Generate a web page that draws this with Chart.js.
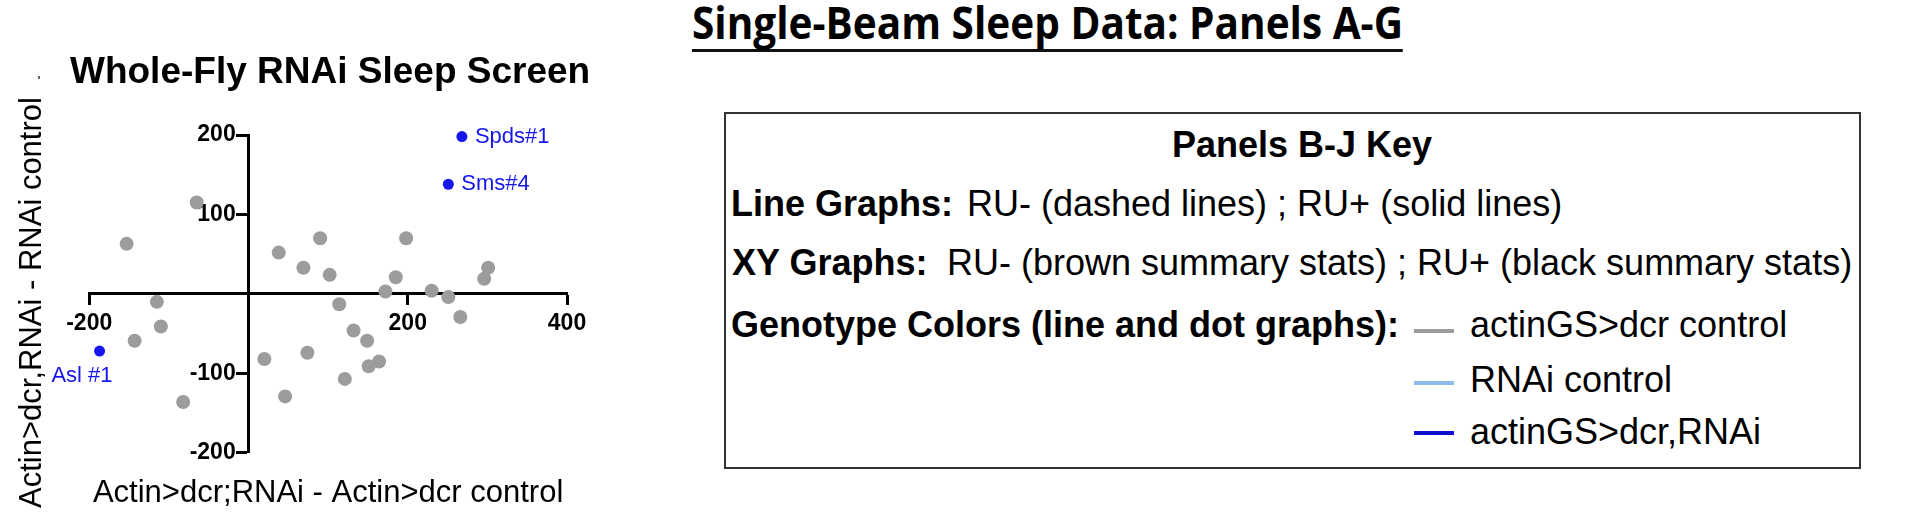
<!DOCTYPE html>
<html>
<head>
<meta charset="utf-8">
<script src="https://cdn.jsdelivr.net/npm/chart.js@4.4.1/dist/chart.umd.min.js"></script>
<style>
  html, body { margin: 0; padding: 0; background: #fff; }
  body {
    width: 1920px; height: 527px; position: relative; overflow: hidden;
    font-family: 'Liberation Sans', Arial, sans-serif; color: #000;
  }
  #scatterWrap { position: absolute; left: 0; top: 0; width: 620px; height: 527px; }
  .main-title {
    position: absolute; left: 692px; top: -1px;
    font-family: 'Open Sans', sans-serif; font-weight: 700; font-size: 45px; line-height: 45px;
    padding-bottom: 5px; border-bottom: 3px solid #111; white-space: nowrap;
    transform-origin: 0 0;
  }
  .panel-title {
    position: absolute; left: 70px; top: 52px;
    font-size: 37px; line-height: 37px; font-weight: bold; white-space: nowrap;
  }
  .speck { position: absolute; left: 38px; top: 76px; width: 2px; height: 3px; background: #666; }
  .key-box {
    position: absolute; left: 724px; top: 112px; width: 1137px; height: 357px;
    box-sizing: border-box; border: 2px solid #333;
  }
  .key-text { position: absolute; font-size: 36px; line-height: 36px; white-space: nowrap; }
  .b { font-weight: bold; }
  .swatch { position: absolute; left: 1414px; width: 40px; height: 4px; }
</style>
</head>
<body>

<div class="main-title" id="mainTitle">Single-Beam Sleep Data: Panels A-G</div>
<div class="speck"></div>

<div id="scatterWrap"><canvas id="screen" width="620" height="527"></canvas></div>
<div class="panel-title">Whole-Fly RNAi Sleep Screen</div>

<div class="key-box"></div>
<div class="key-text b" style="left:1172px; top:127px;">Panels B-J Key</div>
<div class="key-text b" style="left:731px; top:186px;">Line Graphs:</div>
<div class="key-text" style="left:967px; top:186px;">RU- (dashed lines) ; RU+ (solid lines)</div>
<div class="key-text b" style="left:732px; top:245px;">XY Graphs:</div>
<div class="key-text" style="left:947px; top:245px;">RU- (brown summary stats) ; RU+ (black summary stats)</div>
<div class="key-text b" style="left:731px; top:307px;">Genotype Colors (line and dot graphs):</div>
<div class="swatch" style="top:329px; background:#9b9b9b;"></div>
<div class="key-text" style="left:1470px; top:307px;">actinGS&gt;dcr control</div>
<div class="swatch" style="top:381px; background:#8cbbe9;"></div>
<div class="key-text" style="left:1470px; top:362px;">RNAi control</div>
<div class="swatch" style="top:431px; background:#0c0cd2;"></div>
<div class="key-text" style="left:1470px; top:414px;">actinGS&gt;dcr,RNAi</div>

<script>
// sleep change per RNAi line (min): x = vs actin>dcr control, y = vs RNAi control
const grayX = [-153, -65, -115, -110, -143, -82, 38, 90, 69, 102, 198, 185, 172, 230,
               251, 266, 301, 296, 114, 132, 149, 164, 151, 121, 74, 20, 46];
const grayY = [63, 115, -10, -41, -59, -136, 52, 70, 33, 24, 70, 21, 3, 4,
               -4, -29, 33, 19, -13, -46, -59, -85, -91, -107, -74, -82, -129];

// highlighted hits
const hitNames = ['Spds#1', 'Sms#4', 'Asl #1'];
const hitX = [268, 251, -187];
const hitY = [198, 138, -72];

const xTickValues = [-200, 0, 200, 400];
const yTickValues = [-200, -100, 0, 100, 200];

const FONT = "'Liberation Sans', Arial, sans-serif";
const GRAY = '#9c9c9c';
const BLUE = '#1616ec';

const toPoints = (xs, ys) => xs.map((x, i) => ({ x: x, y: ys[i] }));

const pointLabels = {
    id: 'pointLabels',
    afterDatasetsDraw(chart) {
        const meta = chart.getDatasetMeta(1);
        const ctx = chart.ctx;
        ctx.save();
        ctx.font = '22px ' + FONT;
        ctx.fillStyle = BLUE;
        ctx.textBaseline = 'middle';
        meta.data.forEach((pt, i) => {
            const below = hitY[i] < 0;
            ctx.textAlign = below ? 'right' : 'left';
            ctx.fillText(hitNames[i], pt.x + 13, below ? pt.y + 25 : pt.y);
        });
        ctx.restore();
    }
};

const dataAxis = (ticks) => ({
    type: 'linear',
    min: ticks[0],
    max: ticks[ticks.length - 1],
    border: { display: true, color: '#000', width: 3 },
    grid: { drawOnChartArea: false, drawTicks: true, tickWidth: 3, tickColor: '#000' },
    afterBuildTicks: (scale) => { scale.ticks = ticks.map(v => ({ value: v })); },
    ticks: {
        color: '#000',
        font: { family: FONT, size: 23, weight: 'bold' },
        autoSkip: false,
        maxRotation: 0
    }
});

const xAxis = dataAxis(xTickValues);
xAxis.position = { y: 0 };
xAxis.grid.tickLength = 10;
xAxis.ticks.padding = 6;
xAxis.ticks.callback = (v) => (v === 0 ? '' : v);

// labels of an axis placed at x = 0 are anchored on the axis line itself,
// so two trailing spaces keep them clear of the tick marks
const yAxis = dataAxis(yTickValues);
yAxis.position = { x: 0 };
yAxis.grid.tickLength = 11;
yAxis.ticks.callback = (v) => (v === 0 ? '' : v + '  ');

const titleAxis = (axis, position, text, padding) => ({
    type: 'linear',
    axis: axis,
    position: position,
    grid: { display: false, drawTicks: false },
    border: { display: false },
    ticks: { display: false },
    title: {
        display: true,
        text: text,
        color: '#000',
        font: { family: FONT, size: 31, lineHeight: 1.2 },
        padding: padding
    }
});

new Chart(document.getElementById('screen'), {
    type: 'scatter',
    data: {
        datasets: [
            {
                label: 'RNAi lines',
                data: toPoints(grayX, grayY),
                backgroundColor: GRAY,
                borderWidth: 0,
                pointRadius: 7,
                clip: false
            },
            {
                label: 'hits',
                data: toPoints(hitX, hitY),
                backgroundColor: BLUE,
                borderWidth: 0,
                pointRadius: 5.5,
                clip: false
            }
        ]
    },
    options: {
        responsive: false,
        animation: false,
        devicePixelRatio: 1,
        layout: { padding: { left: 0, right: 53, top: 135, bottom: 0 } },
        plugins: {
            legend: { display: false },
            tooltip: { enabled: false },
            title: { display: false }
        },
        scales: {
            x: xAxis,
            y: yAxis,
            xTitle: titleAxis('x', 'bottom', 'Actin>dcr;RNAi - Actin>dcr control', { top: 22, bottom: 15 }),
            yTitle: titleAxis('y', 'left', 'Actin>dcr,RNAi - RNAi control  ', { top: 14, bottom: 38 })
        }
    },
    plugins: [pointLabels]
});

// squeeze the heading to the width it has in the figure
const mainTitle = document.getElementById('mainTitle');
const titleWidth = mainTitle.getBoundingClientRect().width;
mainTitle.style.transform = 'scaleX(' + (711 / titleWidth) + ')';
</script>
</body>
</html>
